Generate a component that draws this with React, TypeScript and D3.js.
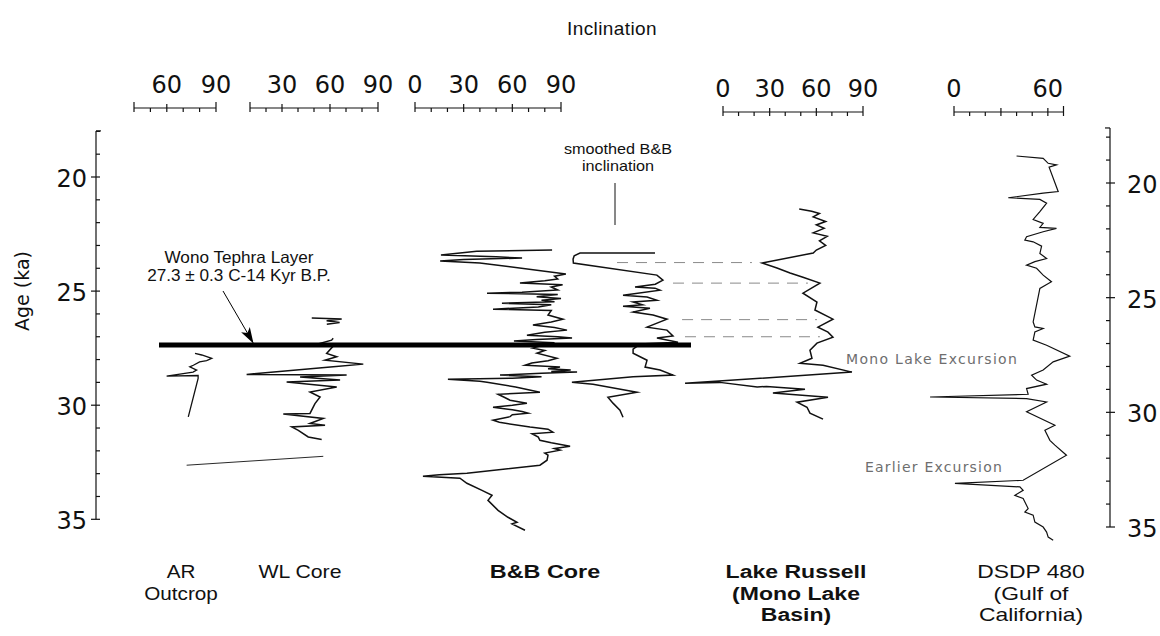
import * as d3 from 'd3';
import { useEffect, useRef } from 'react';

const W = 1160;
const H = 636;

// every series is [age (ka), inclination (deg)]
const arOutcrop = [
  [27.73, 77.2], [27.8, 81.3], [27.95, 87.4], [28.05, 84.3], [28.1, 80], [28.25, 76.2],
  [28.32, 74], [28.46, 78.2], [28.55, 76], [28.73, 59.9], [28.7, 79.1], [28.83, 79.1], [30.51, 73.1],
];

const wlCoreUpper = [
  [26.18, 48.6], [26.22, 67.3], [26.3, 57.9], [26.38, 66], [26.45, 58],
];

const wlCore = [
  [27.07, 62], [27.15, 61], [27.37, 49.6], [27.41, 62], [27.73, 57.9], [27.88, 64.2],
  [28.03, 56.9], [28.2, 80.8], [28.32, 62], [28.65, 7.9], [28.68, 70.4], [28.76, 41.3],
  [28.9, 66.3], [28.98, 32.9], [29.2, 64.2], [29.42, 47.5], [29.64, 53.8], [29.93, 50.6],
  [30.36, 47.5], [30.39, 30.8], [30.58, 55.8], [30.8, 47.5], [30.88, 56.9], [30.95, 36.1],
  [31.1, 40.2], [31.39, 46.4], [31.5, 54.8],
];

const wlCoreLower = [
  [32.24, 55.8], [32.63, -29.6],
];

const bbCore = [
  [23.2, 84.5], [23.25, 38], [23.42, 16], [23.5, 50], [23.55, 66], [23.62, 30], [23.68, 15.5],
  [23.77, 40], [24.25, 93], [24.35, 86], [24.47, 88], [24.55, 80], [24.65, 64.7], [24.72, 91],
  [24.82, 84], [24.95, 88], [25.05, 66], [25.09, 44.4], [25.15, 88], [25.25, 75], [25.32, 90],
  [25.4, 78], [25.47, 86], [25.53, 53.6], [25.6, 84], [25.7, 76], [25.79, 48.1], [25.85, 84],
  [26.05, 82], [26.23, 91.2], [26.35, 84], [26.49, 72.7], [26.6, 86], [26.71, 93.7], [26.8, 80],
  [26.93, 69], [27.0, 88], [27.06, 96.8], [27.12, 75], [27.19, 61], [27.26, 86], [27.32, 81.4],
  [27.5, 72.7], [27.6, 80], [27.72, 75.2], [27.94, 87.5], [28.05, 82], [28.15, 72], [28.25, 67.8],
  [28.33, 89.4], [28.4, 82], [28.46, 96], [28.52, 84], [28.55, 99.9], [28.6, 78], [28.68, 52.4],
  [28.75, 78], [28.82, 60], [28.86, 20.3], [28.95, 40], [28.99, 44.4], [29.2, 62], [29.43, 77],
  [29.52, 51.2], [29.65, 55], [29.78, 58.6], [29.91, 69], [30.0, 60], [30.09, 48.1], [30.2, 60],
  [30.28, 66], [30.35, 69.7], [30.42, 60], [30.5, 58.6], [30.66, 48.1], [30.75, 52], [30.96, 70.9],
  [31.05, 82], [31.18, 85], [31.25, 72.1], [31.4, 76], [31.54, 77], [31.65, 84], [31.8, 95.6],
  [31.9, 86], [31.97, 89.4], [32.1, 80], [32.19, 82], [32.41, 81.4], [32.63, 77], [32.98, 32],
  [33.05, 15], [33.11, 4.9], [33.2, 27.7], [33.42, 32], [33.73, 41.3], [33.95, 47.5], [34.17, 45],
  [34.61, 51.2], [34.91, 57.3], [35.13, 62.9], [35.2, 59.8], [35.48, 67.8],
];

const bbSmoothed = [
  [23.33, 67.8], [23.33, 21.6], [23.45, 18], [23.6, 17.3], [23.77, 17.5], [24.3, 69], [24.52, 72.7],
  [24.7, 68], [24.82, 55.5], [24.87, 67.8], [24.96, 70.9], [25.18, 48.1], [25.26, 62.9], [25.4, 69],
  [25.48, 54.3], [25.6, 60], [25.66, 48.1], [25.75, 64.7], [25.92, 54.3], [26.05, 66.6], [26.23, 75.2],
  [26.58, 62.9], [26.71, 75.2], [26.97, 78.9], [27.06, 69], [27.24, 82], [27.32, 58.6], [27.54, 54.3],
  [27.72, 54.3], [28.03, 62.9], [28.33, 61.7], [28.46, 70.9], [28.68, 78.9], [28.75, 54.3],
  [28.99, 16.6], [29.08, 29.6], [29.43, 56.7], [29.65, 38.8], [29.91, 41.9], [30.22, 46.2], [30.53, 48.1],
];

const lakeRussell = [
  [21.4, 49], [21.5, 57], [21.6, 62], [21.75, 58], [21.95, 66], [22.1, 60], [22.25, 65], [22.45, 58],
  [22.6, 67], [22.8, 62], [23.0, 66], [23.2, 60], [23.33, 58], [23.77, 25.1], [23.99, 34.7],
  [24.21, 43.1], [24.39, 51.4], [24.65, 62.3], [25.09, 51.4], [25.48, 60.4], [25.83, 59.1],
  [26.23, 70.7], [26.58, 61], [26.8, 67.5], [27.02, 70.7], [27.28, 60.4], [27.59, 55.9],
  [27.94, 57.2], [28.16, 49.5], [28.25, 64.3], [28.55, 82.9], [29.04, -24.4], [29.0, -2],
  [29.2, 22], [29.18, 28], [29.3, 52.7], [29.47, 32.1], [29.65, 67.5], [29.87, 47.6],
  [30.09, 54], [30.35, 55.9], [30.61, 64.3],
];

const dsdp480 = [
  [19.08, 40], [19.18, 57], [19.4, 60.2], [19.47, 65.5], [19.57, 60.8], [20.64, 66.6], [20.71, 57],
  [20.91, 34.7], [20.98, 54.9], [21.15, 59.2], [21.52, 54.9], [21.86, 50.6], [22.03, 57], [22.21, 54.9],
  [22.25, 65.5], [22.4, 57], [22.62, 46.4], [22.76, 45.3], [22.84, 50.6], [23.03, 56], [23.35, 54.9],
  [23.57, 59.2], [23.71, 51.7], [23.86, 46.4], [24.0, 52.8], [24.3, 57], [24.59, 62.3], [24.88, 54.9],
  [26.35, 50.6], [26.57, 51.7], [26.64, 57], [26.79, 51.7], [27.15, 50.6], [27.37, 59.2], [27.85, 74],
  [28.1, 63.4], [28.46, 57], [28.68, 49.6], [28.9, 52.8], [29.08, 59.2], [29.27, 46.4], [29.52, 47.4],
  [29.64, -15.3], [29.71, 46.4], [29.86, 59.2], [30.29, 46.4], [30.88, 64.5], [31.1, 58.1], [31.54, 61.3],
  [31.75, 64.5], [32.19, 71.9], [33.29, 44.2], [33.43, 0.6], [33.58, 42.1], [33.73, 44.2], [33.95, 38.9],
  [34.09, 44.2], [34.53, 47.4], [34.68, 45.3], [34.82, 50.6], [35.12, 51.7], [35.34, 57], [35.56, 59.2],
  [35.78, 60.2], [35.92, 63.4],
];

// dashed tie lines, smoothed B&B -> Lake Russell
const tieAges = [23.75, 24.65, 26.25, 27.0];
const tieFromSmoothed = [44.4, 78.9, 84.5, 86.3];
const tieToLakeRussell = [18.6, 54.6, 60.4, 62.3];

const tephraAge = 27.3;
const ageTicks = [20, 25, 30, 35];
const arLabels = [60, 90];
const wlLabels = [30, 60, 90];
const bbLabels = [0, 30, 60, 90];
const lrLabels = [0, 30, 60, 90];
const dsdpLabels = [0, 60];

const DIGITS = "'DejaVu Sans', Verdana, sans-serif";
const HELV = "'Liberation Sans', Arial, Helvetica, sans-serif";

export default function App() {
  const ref = useRef(null);

  useEffect(() => {
    const svg = d3.select(ref.current);
    svg.selectAll('*').remove();

    const yL = d3.scaleLinear().domain([20, 35]).range([177, 519.3]);
    const yR = d3.scaleLinear().domain([20, 35]).range([183, 527]);

    const xAR = d3.scaleLinear().domain([40, 90]).range([134, 216]);
    const xWL = d3.scaleLinear().domain([10, 90]).range([250, 378]);
    const xBB = d3.scaleLinear().domain([0, 90]).range([415, 561]);
    const xSm = d3.scaleLinear().domain([0, 90]).range([545, 691]);
    const xLR = d3.scaleLinear().domain([0, 90]).range([723, 863]);
    const xDS = d3.scaleLinear().domain([0, 70]).range([954, 1063.5]);

    svg.append('rect').attr('width', W).attr('height', H).attr('fill', '#fff');

    const defs = svg.append('defs');
    defs.append('marker')
      .attr('id', 'tephra-arrow')
      .attr('markerUnits', 'userSpaceOnUse')
      .attr('markerWidth', 16)
      .attr('markerHeight', 10)
      .attr('refX', 15)
      .attr('refY', 5)
      .attr('orient', 'auto')
      .append('path')
      .attr('d', 'M0,0 L16,5 L0,10 L4,5 Z')
      .attr('fill', '#000');

    const ink = '#111';

    // title
    svg.append('text')
      .attr('x', 612).attr('y', 35)
      .attr('text-anchor', 'middle')
      .style('font-family', HELV).style('font-size', '19px').style('letter-spacing', '0.4px')
      .attr('fill', ink)
      .text('Inclination');

    // inclination scales along the top
    const inclAxis = (x, labels, y0) => {
      const g = svg.append('g').attr('stroke', ink).attr('stroke-width', 1.2);
      const [d0, d1] = x.domain();
      g.append('line').attr('x1', x(d0)).attr('x2', x(d1)).attr('y1', y0).attr('y2', y0);
      d3.range(d0, d1 + 0.1, 10).forEach((v) => {
        const end = v === d0 || v === d1;
        const major = v % 30 === 0;
        g.append('line')
          .attr('x1', x(v)).attr('x2', x(v))
          .attr('y1', y0 - (end ? 6 : major ? 4 : 0))
          .attr('y2', y0 + 4);
      });
      svg.append('g').selectAll('text').data(labels).enter().append('text')
        .attr('x', (v) => x(v)).attr('y', y0 - 15)
        .attr('text-anchor', 'middle')
        .style('font-family', DIGITS).style('font-size', '24px')
        .attr('fill', ink)
        .text((v) => v);
    };
    inclAxis(xAR, arLabels, 108);
    inclAxis(xWL, wlLabels, 108);
    inclAxis(xBB, bbLabels, 108);
    inclAxis(xLR, lrLabels, 112);
    inclAxis(xDS, dsdpLabels, 112);

    // age axes, running a little above 18 ka at the top
    const ageAxis = (y, x0, side, top) => {
      const g = svg.append('g').attr('stroke', ink).attr('stroke-width', 1.2);
      const inner = side === 'left' ? 1 : -1;
      g.append('line').attr('x1', x0).attr('x2', x0).attr('y1', y(top)).attr('y2', y(35));
      g.append('line').attr('x1', x0).attr('x2', x0 + 5 * inner).attr('y1', y(top)).attr('y2', y(top));
      d3.range(18, 35.1, 1).forEach((a) => {
        const major = a % 5 === 0;
        g.append('line')
          .attr('y1', y(a)).attr('y2', y(a))
          .attr('x1', major ? x0 - 5 * inner : x0)
          .attr('x2', x0 + 4 * inner);
      });
      svg.append('g').selectAll('text').data(ageTicks).enter().append('text')
        .attr('x', side === 'left' ? x0 - 9 : x0 + 17)
        .attr('y', (a) => y(a) + 10)
        .attr('text-anchor', side === 'left' ? 'end' : 'start')
        .style('font-family', DIGITS).style('font-size', '24px')
        .attr('fill', ink)
        .text((a) => a);
    };
    ageAxis(yL, 96, 'left', 17.98);
    ageAxis(yR, 1110, 'right', 17.6);

    svg.append('text')
      .attr('transform', 'translate(29,291) rotate(-90)')
      .attr('text-anchor', 'middle')
      .style('font-family', DIGITS).style('font-size', '19px')
      .attr('fill', ink)
      .text('Age (ka)');

    // traces
    const trace = (data, x, width = 1.4) => {
      const line = d3.line().x((d) => x(d[1])).y((d) => yL(d[0]));
      svg.append('path')
        .attr('d', line(data))
        .attr('fill', 'none')
        .attr('stroke', ink)
        .attr('stroke-width', width)
        .attr('stroke-linejoin', 'miter')
        .attr('stroke-miterlimit', 6);
    };

    // tie lines
    svg.append('g').selectAll('line').data(tieAges).enter().append('line')
      .attr('x1', (a, i) => xSm(tieFromSmoothed[i]))
      .attr('x2', (a, i) => xLR(tieToLakeRussell[i]))
      .attr('y1', (a) => yL(a)).attr('y2', (a) => yL(a))
      .attr('stroke', '#8a8a8a')
      .attr('stroke-width', 1)
      .attr('stroke-dasharray', '11 8');

    trace(arOutcrop, xAR, 1.3);
    trace(wlCoreUpper, xWL, 1.5);
    trace(wlCore, xWL, 1.5);
    trace(wlCoreLower, xWL, 0.9);
    trace(bbCore, xBB, 1.5);
    trace(bbSmoothed, xSm, 1.5);
    trace(lakeRussell, xLR, 1.5);
    trace(dsdp480, xDS, 1.2);

    // Wono tephra layer
    svg.append('line')
      .attr('x1', 159).attr('x2', 691)
      .attr('y1', yL(tephraAge) + 1.5).attr('y2', yL(tephraAge) + 1.5)
      .attr('stroke', '#000').attr('stroke-width', 5);

    svg.append('line')
      .attr('x1', 223).attr('y1', 291)
      .attr('x2', 253).attr('y2', yL(tephraAge) - 1)
      .attr('stroke', '#000').attr('stroke-width', 1)
      .attr('marker-end', 'url(#tephra-arrow)');

    const note = (lines, x, y0, step, opts) => {
      lines.forEach((t, i) => {
        svg.append('text')
          .attr('transform', `translate(${x},${y0 + i * step}) scale(${opts.sx || 1},1)`)
          .attr('text-anchor', opts.anchor || 'middle')
          .style('font-family', opts.family || HELV)
          .style('font-size', `${opts.size}px`)
          .style('font-weight', opts.weight || 'normal')
          .style('letter-spacing', opts.spacing || '0px')
          .attr('fill', opts.color || ink)
          .text(t);
      });
    };

    note(['Wono Tephra Layer', '27.3 \u00b1 0.3 C-14 Kyr B.P.'], 239, 263, 18, { size: 16.5, sx: 1.04 });
    note(['smoothed B&B', 'inclination'], 618, 154, 17, { size: 15, sx: 1.08 });
    svg.append('line')
      .attr('x1', 615).attr('x2', 615).attr('y1', 183).attr('y2', 225)
      .attr('stroke', ink).attr('stroke-width', 1);

    note(['Mono Lake Excursion'], 846, 364, 0, {
      size: 14, anchor: 'start', family: DIGITS, color: '#6e6e6e', spacing: '1.3px',
    });
    note(['Earlier Excursion'], 865, 472, 0, {
      size: 14, anchor: 'start', family: DIGITS, color: '#6e6e6e', spacing: '1.2px',
    });

    // core names
    note(['AR', 'Outcrop'], 181, 578, 22, { size: 18, sx: 1.15 });
    note(['WL Core'], 300, 578, 22, { size: 18, sx: 1.18 });
    note(['B&B Core'], 545, 578, 22, { size: 18, sx: 1.3, weight: 'bold' });
    note(['Lake Russell', '(Mono Lake', 'Basin)'], 796, 578, 21.5, { size: 18, sx: 1.28, weight: 'bold' });
    note(['DSDP 480', '(Gulf of', 'California)'], 1031, 578, 21.5, { size: 18, sx: 1.27 });

    return () => {
      svg.selectAll('*').remove();
    };
  }, []);

  return (
    <svg
      ref={ref}
      width={W}
      height={H}
      viewBox={`0 0 ${W} ${H}`}
      style={{ position: 'absolute', left: 0, top: 0 }}
      role="img"
      aria-label="Inclination records versus age"
    />
  );
}
